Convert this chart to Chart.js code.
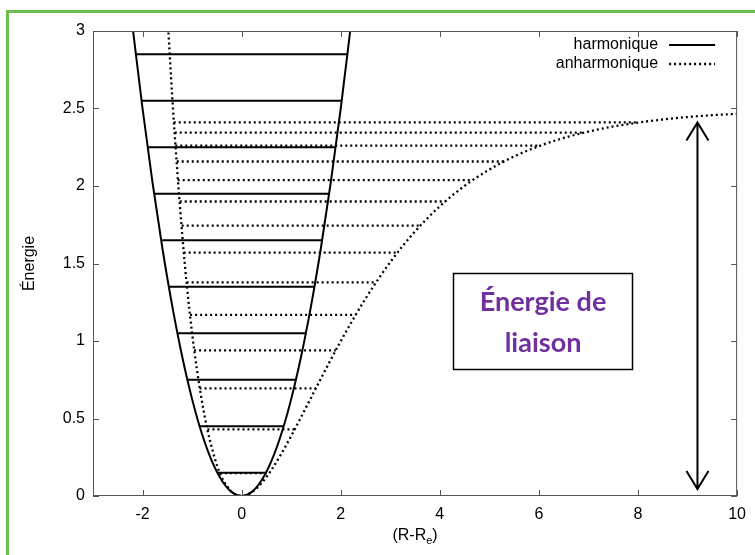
<!DOCTYPE html>
<html lang="fr">
<head>
<meta charset="utf-8">
<title>Potentiel harmonique et anharmonique</title>
<script src="https://cdn.jsdelivr.net/npm/chart.js@4.4.1/dist/chart.umd.min.js"></script>
<style>
  html, body { margin: 0; padding: 0; background: #fff; }
  canvas { display: block; }
</style>
</head>
<body>
<canvas id="potentiel" width="755" height="555"></canvas>
<script>
// Graduations des axes
const xTicks = [-2, 0, 2, 4, 6, 8, 10];
const yTicks = [0, 0.5, 1, 1.5, 2, 2.5, 3];

// Potentiel harmonique (parabole)
const harmX = [-2.2, -2.0, -1.8, -1.6, -1.4, -1.2, -1.0, -0.8, -0.6, -0.4, -0.2, 0, 0.2, 0.4, 0.6, 0.8, 1.0, 1.2, 1.4, 1.6, 1.8, 2.0, 2.2];
const harmE = [3.025, 2.5, 2.025, 1.6, 1.225, 0.9, 0.625, 0.4, 0.225, 0.1, 0.025, 0, 0.025, 0.1, 0.225, 0.4, 0.625, 0.9, 1.225, 1.6, 2.025, 2.5, 3.025];

// Potentiel anharmonique (type Morse)
const morseX = [-1.5, -1.45, -1.4, -1.3, -1.2, -1.1, -1.0, -0.9, -0.8, -0.7, -0.6, -0.5, -0.4, -0.3, -0.2, -0.1, 0, 0.2, 0.4, 0.6, 0.8, 1.0, 1.2, 1.5, 2.0, 2.5, 3.0, 3.5, 4.0, 4.5, 5.0, 5.5, 6.0, 6.5, 7.0, 7.5, 8.0, 8.5, 9.0, 9.5, 10];
const morseE = [3.12, 2.84, 2.57, 2.10, 1.69, 1.34, 1.05, 0.81, 0.61, 0.44, 0.31, 0.20, 0.12, 0.065, 0.028, 0.007, 0, 0.023, 0.082, 0.168, 0.272, 0.387, 0.509, 0.696, 0.999, 1.273, 1.509, 1.707, 1.869, 2.001, 2.106, 2.191, 2.257, 2.310, 2.351, 2.384, 2.409, 2.429, 2.445, 2.457, 2.466];

// Niveaux d'énergie harmoniques et leurs bornes
const harmLevels = [0.15, 0.45, 0.75, 1.05, 1.35, 1.65, 1.95, 2.25, 2.55, 2.85];
const harmLeft = [-0.49, -0.85, -1.10, -1.30, -1.47, -1.62, -1.77, -1.90, -2.02, -2.13];
const harmRight = [0.49, 0.85, 1.10, 1.30, 1.47, 1.62, 1.77, 1.90, 2.02, 2.13];

// Niveaux d'énergie anharmoniques et leurs bornes
const morseLevels = [0.148, 0.430, 0.694, 0.940, 1.168, 1.378, 1.570, 1.744, 1.900, 2.038, 2.158, 2.260, 2.344, 2.410];
const morseLeft = [-0.44, -0.69, -0.85, -0.96, -1.04, -1.11, -1.17, -1.21, -1.25, -1.29, -1.31, -1.34, -1.35, -1.37];
const morseRight = [0.56, 1.07, 1.50, 1.90, 2.30, 2.71, 3.15, 3.61, 4.11, 4.66, 5.29, 6.02, 6.90, 8.01];

// Flèche de l'énergie de liaison et cadre de texte (coordonnées des données)
const arrowX = 9.2;
const arrowTop = 2.41;
const arrowBottom = 0.045;
const boxX = [4.27, 7.87];
const boxE = [1.44, 0.82];
const boxLines = ['Énergie de', 'liaison'];

const FONT = '"Liberation Sans", Arial, Helvetica, sans-serif';
const DOTS = [2, 3];

function toPoints(xs, ys) {
  return xs.map((x, i) => ({ x: x, y: ys[i] }));
}

const datasets = [
  {
    label: 'harmonique',
    data: toPoints(harmX, harmE),
    borderColor: '#000',
    borderWidth: 2,
    cubicInterpolationMode: 'monotone'
  },
  {
    label: 'anharmonique',
    data: toPoints(morseX, morseE),
    borderColor: '#000',
    borderWidth: 2.3,
    borderDash: DOTS,
    cubicInterpolationMode: 'monotone'
  }
];

harmLevels.forEach((e, i) => {
  datasets.push({
    data: [{ x: harmLeft[i], y: e }, { x: harmRight[i], y: e }],
    borderColor: '#000',
    borderWidth: 2
  });
});

morseLevels.forEach((e, i) => {
  datasets.push({
    data: [{ x: morseLeft[i], y: e }, { x: morseRight[i], y: e }],
    borderColor: '#000',
    borderWidth: 2.3,
    borderDash: DOTS
  });
});

// Cadre vert, bordure du graphe, graduations intérieures, légende, annotations
const decorPlugin = {
  id: 'decor',
  beforeDraw(chart) {
    const ctx = chart.ctx;
    ctx.save();
    ctx.fillStyle = '#fff';
    ctx.fillRect(0, 0, chart.width, chart.height);
    ctx.fillStyle = '#6abf4b';
    ctx.fillRect(6, 10, chart.width, 3);
    ctx.fillRect(6, 10, 3, chart.height);
    ctx.restore();
  },
  afterDatasetsDraw(chart) {
    const ctx = chart.ctx;
    const { left, right, top, bottom } = chart.chartArea;
    const xs = chart.scales.x;
    const ys = chart.scales.y;

    ctx.save();
    // Bordure et graduations
    ctx.strokeStyle = '#555';
    ctx.lineWidth = 1;
    ctx.strokeRect(left + 0.5, top + 0.5, right - left - 1, bottom - top - 1);
    ctx.beginPath();
    xTicks.forEach(v => {
      const px = Math.round(xs.getPixelForValue(v)) + 0.5;
      ctx.moveTo(px, bottom); ctx.lineTo(px, bottom - 6);
      ctx.moveTo(px, top); ctx.lineTo(px, top + 6);
    });
    yTicks.forEach(v => {
      const py = Math.round(ys.getPixelForValue(v)) + 0.5;
      ctx.moveTo(left, py); ctx.lineTo(left + 6, py);
      ctx.moveTo(right, py); ctx.lineTo(right - 6, py);
    });
    ctx.stroke();

    // Légende
    ctx.font = '16px ' + FONT;
    ctx.fillStyle = '#000';
    ctx.textAlign = 'right';
    ctx.textBaseline = 'middle';
    ctx.strokeStyle = '#000';
    [0, 1].forEach(i => {
      const y = top + 14 + i * 19;
      ctx.fillText(datasets[i].label, right - 79, y);
      ctx.lineWidth = datasets[i].borderWidth;
      ctx.setLineDash(datasets[i].borderDash || []);
      ctx.beginPath();
      ctx.moveTo(right - 68, y);
      ctx.lineTo(right - 22, y);
      ctx.stroke();
    });
    ctx.setLineDash([]);
    ctx.lineWidth = 2;

    // Flèche double
    const ax = xs.getPixelForValue(arrowX);
    const ay1 = ys.getPixelForValue(arrowTop);
    const ay2 = ys.getPixelForValue(arrowBottom);
    ctx.beginPath();
    ctx.moveTo(ax, ay1); ctx.lineTo(ax, ay2);
    ctx.moveTo(ax - 11, ay1 + 18); ctx.lineTo(ax, ay1); ctx.lineTo(ax + 11, ay1 + 18);
    ctx.moveTo(ax - 11, ay2 - 18); ctx.lineTo(ax, ay2); ctx.lineTo(ax + 11, ay2 - 18);
    ctx.stroke();

    // Cadre "Énergie de liaison"
    const bx1 = Math.round(xs.getPixelForValue(boxX[0])) + 0.5;
    const bx2 = Math.round(xs.getPixelForValue(boxX[1])) + 0.5;
    const by1 = Math.round(ys.getPixelForValue(boxE[0])) + 0.5;
    const by2 = Math.round(ys.getPixelForValue(boxE[1])) + 0.5;
    ctx.lineWidth = 1.5;
    ctx.fillStyle = '#fff';
    ctx.fillRect(bx1, by1, bx2 - bx1, by2 - by1);
    ctx.strokeRect(bx1, by1, bx2 - bx1, by2 - by1);
    ctx.fillStyle = '#7030a0';
    ctx.textAlign = 'center';
    ctx.font = 'bold 27px Lato, "Open Sans", sans-serif';
    const cx = (bx1 + bx2) / 2;
    const cy = (by1 + by2) / 2;
    ctx.fillText(boxLines[0], cx, cy - 19);
    ctx.fillText(boxLines[1], cx, cy + 22);

    // Titre de l'axe x avec indice
    ctx.fillStyle = '#000';
    ctx.textAlign = 'left';
    ctx.textBaseline = 'alphabetic';
    const main = '(R-R';
    ctx.font = '16px ' + FONT;
    const w1 = ctx.measureText(main).width;
    const w3 = ctx.measureText(')').width;
    ctx.font = '11px ' + FONT;
    const w2 = ctx.measureText('e').width;
    const tx = (left + right) / 2 - (w1 + w2 + w3) / 2;
    const base = 540;
    ctx.font = '16px ' + FONT;
    ctx.fillText(main, tx, base);
    ctx.font = '11px ' + FONT;
    ctx.fillText('e', tx + w1, base + 4);
    ctx.font = '16px ' + FONT;
    ctx.fillText(')', tx + w1 + w2, base);
    ctx.restore();
  }
};

new Chart(document.getElementById('potentiel'), {
  type: 'scatter',
  data: { datasets: datasets },
  options: {
    responsive: false,
    animation: false,
    showLine: true,
    elements: { point: { radius: 0 }, line: { borderCapStyle: 'butt' } },
    layout: { padding: { top: 31, right: 10, bottom: 0, left: 0 } },
    plugins: { legend: { display: false }, tooltip: { enabled: false } },
    scales: {
      x: {
        type: 'linear',
        min: -3,
        max: 10,
        grid: { display: false, drawTicks: false },
        border: { display: false },
        afterBuildTicks: s => { s.ticks = xTicks.map(v => ({ value: v })); },
        afterFit: s => { s.height = 59; },
        ticks: { color: '#000', padding: 9, font: { family: FONT, size: 16 }, callback: v => String(v) }
      },
      y: {
        type: 'linear',
        min: 0,
        max: 3,
        grid: { display: false, drawTicks: false },
        border: { display: false },
        afterBuildTicks: s => { s.ticks = yTicks.map(v => ({ value: v })); },
        afterFit: s => { s.width = 93; },
        ticks: { color: '#000', padding: 8, font: { family: FONT, size: 16 }, callback: v => String(v) },
        title: { display: true, text: 'Énergie', color: '#000', padding: { top: 20 }, font: { family: FONT, size: 16 } }
      }
    }
  },
  plugins: [decorPlugin]
});
</script>
</body>
</html>
